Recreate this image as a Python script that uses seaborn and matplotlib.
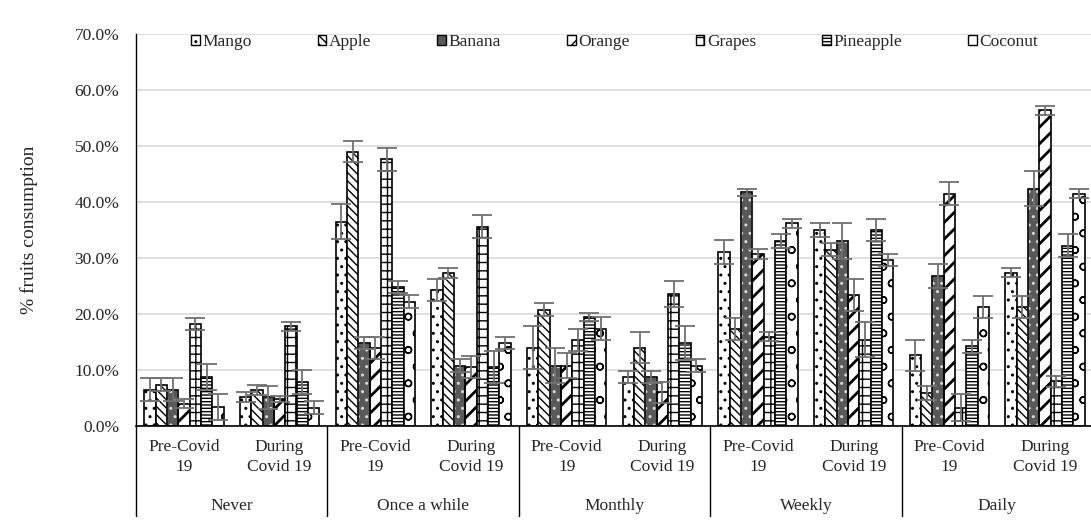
import numpy as np
import pandas as pd
import seaborn as sns
import matplotlib.pyplot as plt
from matplotlib.patches import Rectangle, Patch
from matplotlib.transforms import blended_transform_factory

# Data (percent), order of slots:
# Never pre/during, Once a while pre/during, Monthly, Weekly, Daily
frequencies = ['Never', 'Once a while', 'Monthly', 'Weekly', 'Daily']
periods = ['Pre-Covid\n19', 'During\nCovid 19']
fruits = ['Mango', 'Apple', 'Banana', 'Orange', 'Grapes', 'Pineapple', 'Coconut']

mango = [6.5, 5.1, 36.5, 24.3, 14.0, 8.8, 31.1, 35.0, 12.6, 27.4]
mango_err = [2.0, 0.9, 3.1, 2.0, 3.9, 1.1, 2.1, 1.2, 2.8, 0.8]
apple = [7.4, 6.5, 49.0, 27.4, 20.8, 14.0, 17.3, 31.5, 5.9, 21.3]
apple_err = [1.1, 0.9, 1.9, 0.9, 1.1, 2.7, 2.0, 1.2, 1.2, 2.0]
banana = [6.5, 5.1, 14.8, 10.8, 10.8, 8.8, 41.7, 33.0, 26.8, 42.4]
banana_err = [2.0, 2.0, 1.1, 1.1, 3.2, 1.1, 0.7, 3.2, 2.1, 3.2]
orange = [4.0, 4.8, 13.9, 10.5, 10.8, 6.0, 30.7, 23.4, 41.5, 56.4]
orange_err = [0.8, 0.6, 2.0, 2.0, 2.2, 1.9, 0.9, 2.9, 2.1, 0.8]
grapes = [18.2, 17.8, 47.6, 35.6, 15.4, 23.6, 15.9, 15.4, 3.3, 8.0]
grapes_err = [1.0, 0.8, 2.0, 2.0, 2.0, 2.3, 0.8, 3.1, 2.4, 1.0]
pineapple = [8.8, 7.9, 24.8, 10.5, 19.4, 14.8, 33.0, 35.0, 14.2, 32.2]
pineapple_err = [2.3, 2.1, 1.1, 2.9, 0.7, 3.1, 1.2, 2.0, 1.2, 2.0]
coconut = [3.4, 3.3, 22.2, 14.8, 17.4, 10.8, 36.2, 29.6, 21.3, 41.5]
coconut_err = [2.3, 1.2, 1.2, 1.1, 2.0, 1.1, 0.8, 1.1, 2.0, 0.8]

series = [mango, apple, banana, orange, grapes, pineapple, coconut]
errors = [mango_err, apple_err, banana_err, orange_err, grapes_err, pineapple_err, coconut_err]

slots = [f'{f}|{p}' for f in frequencies for p in periods]
rows = []
for fruit, vals, errs in zip(fruits, series, errors):
    for slot, v, e in zip(slots, vals, errs):
        rows.append({'slot': slot, 'fruit': fruit, 'value': v, 'err': e})
df = pd.DataFrame(rows)

sns.set_style('white')
plt.rcParams['font.family'] = ['Liberation Serif', 'DejaVu Serif']
plt.rcParams['hatch.linewidth'] = 1.0

fills = ['white', 'white', '#595959', 'white', 'white', 'white', 'white']
hatches = ['..', '\\\\\\\\', '..', '//', '++', '-----', 'o']

fig = plt.figure(figsize=(10.91, 5.22), dpi=100)
ax = fig.add_axes([0.1247, 0.1839, 0.8771, 0.7510])

sns.barplot(data=df, x='slot', y='value', hue='fruit', hue_order=fruits,
            palette=dict(zip(fruits, fills)), edgecolor='black', linewidth=1.2,
            width=0.83, gap=0, errorbar=None, legend=False, ax=ax)

bar_containers = list(ax.containers)
for i, cont in enumerate(bar_containers):
    for p in cont.patches:
        p.set_hatch(hatches[i])
        if fruits[i] == 'Orange' and hasattr(p, 'set_hatch_linewidth'):
            p.set_hatch_linewidth(2.0)
        if fruits[i] == 'Banana':
            p.set_edgecolor('#d8d8d8')
            ax.add_patch(Rectangle((p.get_x(), 0), p.get_width(), p.get_height(),
                                   fill=False, edgecolor='black', linewidth=1.2, zorder=p.get_zorder() + 0.1))
    xs = [p.get_x() + p.get_width() / 2 for p in cont.patches]
    ys = [p.get_height() for p in cont.patches]
    ax.errorbar(xs, ys, yerr=errors[i], fmt='none', ecolor='#707070',
                elinewidth=1.3, capsize=7, capthick=1.3, zorder=5)

ax.set_ylim(0, 70)
ax.set_xlim(-0.5, 9.5)
ax.set_yticks(np.arange(0, 71, 10))
ax.set_yticklabels([f'{v:.1f}%' for v in np.arange(0, 71, 10)], fontsize=12.5)
ax.tick_params(axis='y', length=0, pad=12)
ax.yaxis.grid(True, color='#d9d9d9', linewidth=1.2)
ax.set_axisbelow(True)
ax.set_xticks([])
ax.set_xlabel('')
ax.set_ylabel('% fruits consumption', fontsize=14, labelpad=26)
for s in ['top', 'right']:
    ax.spines[s].set_visible(False)
ax.spines['left'].set_color('black')
ax.spines['bottom'].set_color('black')
ax.spines['left'].set_linewidth(1.0)
ax.spines['bottom'].set_linewidth(1.2)

# multi-level category axis
trans = blended_transform_factory(ax.transData, ax.transAxes)
for k in range(len(frequencies) + 1):
    ax.plot([k * 2 - 0.5, k * 2 - 0.5], [0, -0.23], transform=trans,
            color='black', linewidth=1.0, clip_on=False)
for j, slot in enumerate(slots):
    ax.text(j, -0.079, periods[j % 2], transform=trans, ha='center', va='center',
            fontsize=12.5, linespacing=1.4)
for k, f in enumerate(frequencies):
    ax.text(k * 2 + 0.5, -0.203, f, transform=trans, ha='center', va='center', fontsize=12.5)

handles = [Patch(facecolor=fc, edgecolor='black', hatch=h if fc == 'white' else None, linewidth=1.0)
           for fc, h in zip(fills, hatches)]
ax.legend(handles, fruits, loc='upper center', bbox_to_anchor=(0.5, 1.04), ncol=7,
          frameon=False, fontsize=12.5, handlelength=0.5, handleheight=0.5,
          handletextpad=0.15, columnspacing=3.8)

fig.savefig('out.png', dpi=100)
